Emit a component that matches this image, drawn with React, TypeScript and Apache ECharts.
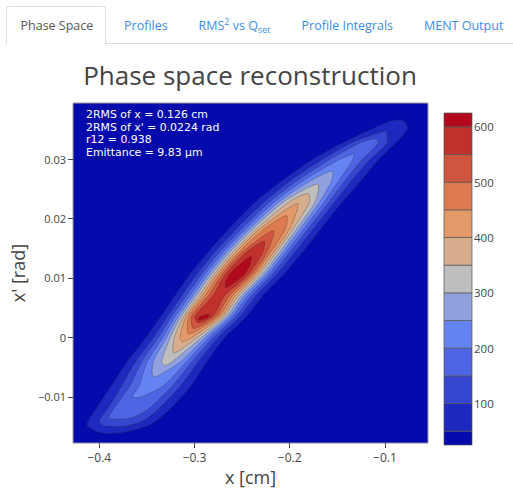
import React, { useEffect, useRef } from 'react';
import * as echarts from 'echarts';

// ---- axis ticks ----
const xTickValues = [-0.4, -0.3, -0.2, -0.1];
const xTickLabels = ['−0.4', '−0.3', '−0.2', '−0.1'];
const yTickValues = [-0.01, 0, 0.01, 0.02, 0.03];
const yTickLabels = ['−0.01', '0', '0.01', '0.02', '0.03'];
const colorbarTicks = [100, 200, 300, 400, 500, 600];

// ---- contour levels and band edges (colour bar) ----
const contourLevels = [50, 100, 150, 200, 250, 300, 350, 400, 450, 500, 550, 600];
const bandEdges = [25, 50, 100, 150, 200, 250, 300, 350, 400, 450, 500, 550, 600, 625];
const bandColors = [
  '#050aac', '#1d28be', '#3546d0', '#4d65e2', '#6583f3', '#8fa1de', '#bebebe',
  '#d7ad8e', '#e39968', '#dd7a50', '#cf553e', '#c0302d', '#b20a1c',
];

// ---- contour rings: rows of [x', x_left, x_right] ----
const contour50 = [
  [-0.016, -0.3993, -0.3762], [-0.0147, -0.4129, -0.3468], [-0.01225, -0.4045, -0.3269],
  [-0.00817, -0.3877, -0.3038], [-0.00408, -0.3709, -0.287], [0, -0.351, -0.2681],
  [0.00359, -0.3353, -0.245], [0.00703, -0.3206, -0.2282], [0.01062, -0.3048, -0.2062],
  [0.01438, -0.2859, -0.1863], [0.01846, -0.2629, -0.1663], [0.02288, -0.2356, -0.1443],
  [0.02647, -0.2072, -0.1243], [0.02974, -0.1779, -0.1076], [0.03268, -0.1453, -0.0887],
  [0.03513, -0.1128, -0.0761], [0.03644, -0.0929, -0.0803],
];
const contour100 = [
  [-0.0149, -0.395, -0.372], [-0.014, -0.4, -0.354], [-0.01225, -0.3923, -0.3391],
  [-0.00817, -0.3767, -0.3147], [-0.00408, -0.3621, -0.2959], [0, -0.343, -0.275],
  [0.00359, -0.3284, -0.2518], [0.00703, -0.3135, -0.2353], [0.01062, -0.2976, -0.2134],
  [0.01438, -0.2788, -0.1944], [0.01846, -0.255, -0.1742], [0.02288, -0.2265, -0.1523],
  [0.02647, -0.1983, -0.1343], [0.02974, -0.1677, -0.1167], [0.03268, -0.1359, -0.0981],
  [0.0347, -0.101, -0.0985],
];
const contour150 = [
  [-0.0136, -0.39, -0.368], [-0.01225, -0.386, -0.35], [-0.00817, -0.3679, -0.3235],
  [-0.00408, -0.3555, -0.3025], [0, -0.3378, -0.2802], [0.00359, -0.3239, -0.2563],
  [0.00703, -0.3087, -0.2401], [0.01062, -0.2927, -0.2183], [0.01438, -0.2737, -0.1995],
  [0.01846, -0.2495, -0.1797], [0.02288, -0.2205, -0.1583], [0.02647, -0.1912, -0.1414],
  [0.02974, -0.1597, -0.1247], [0.03268, -0.1269, -0.1071], [0.0334, -0.1106, -0.1106],
];
const contour200 = [
  [-0.01, -0.365, -0.356], [-0.00817, -0.3584, -0.333], [-0.00408, -0.3496, -0.3084],
  [0, -0.3334, -0.2846], [0.00359, -0.3202, -0.26], [0.00703, -0.3048, -0.244],
  [0.01062, -0.2888, -0.2222], [0.01438, -0.2696, -0.2036], [0.01846, -0.2451, -0.1841],
  [0.02288, -0.2154, -0.1634], [0.02647, -0.1846, -0.148], [0.02974, -0.1501, -0.1343],
  [0.0308, -0.1328, -0.1328],
];
const contour250 = [
  [-0.0065, -0.344, -0.339], [-0.00408, -0.3434, -0.3146], [0, -0.3295, -0.2885],
  [0.00359, -0.317, -0.2632], [0.00703, -0.3014, -0.2474], [0.01062, -0.2854, -0.2256],
  [0.01438, -0.266, -0.2072], [0.01846, -0.2411, -0.1881], [0.02288, -0.2106, -0.1682],
  [0.02647, -0.1769, -0.1557], [0.028, -0.1552, -0.1552],
];
const contour300 = [
  [-0.0047, -0.3311, -0.3311], [-0.00408, -0.3346, -0.3234], [0, -0.3254, -0.2926],
  [0.00359, -0.3141, -0.2661], [0.00703, -0.2982, -0.2506], [0.01062, -0.2824, -0.2286],
  [0.01438, -0.2626, -0.2106], [0.01846, -0.2373, -0.1919], [0.02288, -0.2057, -0.1731],
  [0.0258, -0.1705, -0.1705],
];
const contour350 = [
  [-0.0026, -0.3218, -0.3218], [0, -0.3211, -0.2969], [0.00359, -0.3113, -0.2689],
  [0.00703, -0.2952, -0.2536], [0.01062, -0.2795, -0.2315], [0.01438, -0.2595, -0.2137],
  [0.01846, -0.2336, -0.1956], [0.02288, -0.1998, -0.179], [0.0242, -0.1811, -0.1811],
];
const contour400 = [
  [-0.0007, -0.3126, -0.3126], [0, -0.3153, -0.3027], [0.00359, -0.3086, -0.2716],
  [0.00703, -0.2922, -0.2566], [0.01062, -0.2766, -0.2344], [0.01438, -0.2564, -0.2168],
  [0.01846, -0.2297, -0.1995], [0.0225, -0.1917, -0.1917],
];
const contour450 = [
  [0.0006, -0.306, -0.306], [0.00359, -0.3058, -0.2744], [0.00703, -0.289, -0.2598],
  [0.01062, -0.2738, -0.2372], [0.01438, -0.2531, -0.2201], [0.01846, -0.225, -0.2042],
  [0.0205, -0.2033, -0.2033],
];
const contour500 = [
  [0.0015, -0.3011, -0.3011], [0.00359, -0.3028, -0.2774], [0.00703, -0.2854, -0.2634],
  [0.01062, -0.2708, -0.2402], [0.01438, -0.2495, -0.2237], [0.018, -0.217, -0.217],
];
const contour550 = [
  [0.00245, -0.2961, -0.2961], [0.00359, -0.2993, -0.2809], [0.00703, -0.2806, -0.2682],
  [0.01062, -0.2675, -0.2435], [0.01438, -0.245, -0.2282], [0.0162, -0.2269, -0.2269],
];
const contour600a = [
  [0.0029, -0.2955, -0.2955], [0.0034, -0.295, -0.286], [0.0039, -0.285, -0.285],
];
const contour600b = [
  [0.0084, -0.2672, -0.2672], [0.0095, -0.2668, -0.256], [0.01062, -0.2633, -0.2477],
  [0.0122, -0.253, -0.242], [0.0136, -0.2404, -0.2404],
];

const contourShapes: [number, number[][]][] = [
  [50, contour50], [100, contour100], [150, contour150], [200, contour200],
  [250, contour250], [300, contour300], [350, contour350], [400, contour400],
  [450, contour450], [500, contour500], [550, contour550], [600, contour600a],
  [600, contour600b],
];

const annotationLines = [
  '2RMS of x = 0.126 cm',
  "2RMS of x' = 0.0224 rad",
  'r12 = 0.938',
  'Emittance = 9.83 µm',
];

const FONT = '"Open Sans", "Noto Sans", sans-serif';

function labelFor(values: number[], labels: string[]) {
  return (v: number) => {
    const i = values.findIndex((t) => Math.abs(t - v) < 1e-9);
    return i >= 0 ? labels[i] : '';
  };
}

function Chart() {
  const ref = useRef<HTMLDivElement>(null);
  useEffect(() => {
    if (!ref.current) return;
    const chart = echarts.init(ref.current, null, { renderer: 'svg' });
    const bands = bandEdges.slice(0, -1).map((lo, i) => [0.5, lo, bandEdges[i + 1], i]);
    chart.setOption({
      animation: false,
      backgroundColor: '#ffffff',
      title: {
        text: 'Phase space reconstruction',
        left: 250,
        top: 62,
        padding: 0,
        textAlign: 'center',
        textVerticalAlign: 'top',
        textStyle: { fontSize: 26, fontWeight: 'normal', color: '#444', fontFamily: FONT },
      },
      grid: [
        {
          left: 73, top: 103, width: 355, height: 350,
          show: true, backgroundColor: bandColors[0], borderColor: '#a0a0a0', borderWidth: 1,
        },
        { left: 444, top: 113, width: 28, height: 332, show: false },
      ],
      xAxis: [
        {
          type: 'value', gridIndex: 0, min: -0.4276, max: -0.0548, position: 'bottom',
          axisLine: { show: false, onZero: false }, splitLine: { show: false },
          axisTick: { show: true, length: 5, customValues: xTickValues, lineStyle: { color: '#444' } },
          axisLabel: {
            customValues: xTickValues, formatter: labelFor(xTickValues, xTickLabels),
            fontSize: 12, color: '#444', margin: 8, fontFamily: FONT,
          },
          name: 'x [cm]', nameLocation: 'middle', nameGap: 19,
          nameTextStyle: { fontSize: 18, color: '#444', fontFamily: FONT },
        },
        { type: 'value', gridIndex: 1, min: 0, max: 1, show: false },
      ],
      yAxis: [
        {
          type: 'value', gridIndex: 0, min: -0.01776, max: 0.03942, position: 'left',
          axisLine: { show: false, onZero: false }, splitLine: { show: false },
          axisTick: { show: true, length: 5, customValues: yTickValues, lineStyle: { color: '#444' } },
          axisLabel: {
            customValues: yTickValues, formatter: labelFor(yTickValues, yTickLabels),
            fontSize: 11, color: '#444', margin: 7, fontFamily: FONT,
          },
          name: "x' [rad]", nameLocation: 'middle', nameGap: 38,
          nameTextStyle: { fontSize: 18, color: '#444', fontFamily: FONT },
        },
        {
          type: 'value', gridIndex: 1, min: 25, max: 625, position: 'right',
          axisLine: { show: false, onZero: false }, axisTick: { show: false }, splitLine: { show: false },
          axisLabel: {
            customValues: colorbarTicks, fontSize: 11.5, color: '#444', margin: 2, fontFamily: FONT,
          },
        },
      ],
      series: [
        {
          type: 'custom',
          xAxisIndex: 0,
          yAxisIndex: 0,
          clip: true,
          silent: true,
          data: contourShapes.map((s) => [s[1][0][1], s[1][0][0]]),
          renderItem: (params: any, api: any) => {
            const [level, rows] = contourShapes[params.dataIndex];
            const left = rows.map((r) => api.coord([r[1], r[0]]));
            const right = rows
              .slice()
              .reverse()
              .filter((r) => r[1] !== r[2])
              .map((r) => api.coord([r[2], r[0]]));
            const k = contourLevels.indexOf(level) + 1;
            return {
              type: 'polygon',
              shape: { points: left.concat(right), smooth: 0.25 },
              style: { fill: bandColors[k], stroke: 'rgba(35,35,35,0.45)', lineWidth: 0.6 },
            };
          },
        },
        {
          type: 'custom',
          xAxisIndex: 1,
          yAxisIndex: 1,
          silent: true,
          encode: { x: 0, y: 1 },
          data: bands,
          renderItem: (params: any, api: any) => {
            const lo = api.value(1);
            const hi = api.value(2);
            const k = api.value(3);
            const p0 = api.coord([0, lo]);
            const p1 = api.coord([1, hi]);
            return {
              type: 'rect',
              shape: { x: p0[0], y: p1[1], width: p1[0] - p0[0], height: p0[1] - p1[1] },
              style: { fill: bandColors[k], stroke: '#555', lineWidth: 0.7 },
            };
          },
        },
      ],
      graphic: annotationLines.map((line, i) => ({
        type: 'text',
        x: 86,
        y: 109 + i * 12.7,
        silent: true,
        style: {
          text: line,
          fill: '#ffffff',
          fontSize: 10.9,
          fontFamily: '"DejaVu Sans", sans-serif',
          align: 'left',
          verticalAlign: 'top',
        },
      })),
    });
    return () => chart.dispose();
  }, []);
  return <div ref={ref} style={{ position: 'absolute', left: 0, top: 0, width: 513, height: 491 }} />;
}

const tabText: React.CSSProperties = {
  position: 'absolute',
  top: 17,
  lineHeight: '17px',
  fontSize: 12.5,
  fontFamily: FONT,
  color: '#3a8ee6',
  whiteSpace: 'nowrap',
};

export default function App() {
  return (
    <div style={{ position: 'fixed', left: 0, top: 0, width: 513, height: 491, background: '#fff', overflow: 'hidden' }}>
      <Chart />
      <div style={{ position: 'absolute', left: 6, top: 43, width: 507, height: 1, background: '#ddd' }} />
      <div
        style={{
          position: 'absolute', left: 6, top: 6, width: 100, height: 38, boxSizing: 'border-box',
          border: '1px solid #ddd', borderBottom: 'none', borderRadius: '4px 4px 0 0', background: '#fff',
        }}
      />
      <span style={{ ...tabText, left: 20.5, color: '#555' }}>Phase Space</span>
      <span style={{ ...tabText, left: 124 }}>Profiles</span>
      <span style={{ ...tabText, left: 198.5 }}>
        RMS<span style={{ fontSize: 9, position: 'relative', top: -5 }}>2</span> vs Q
        <span style={{ fontSize: 9, position: 'relative', top: 3 }}>set</span>
      </span>
      <span style={{ ...tabText, left: 301.5 }}>Profile Integrals</span>
      <span style={{ ...tabText, left: 424 }}>MENT Output</span>
    </div>
  );
}
